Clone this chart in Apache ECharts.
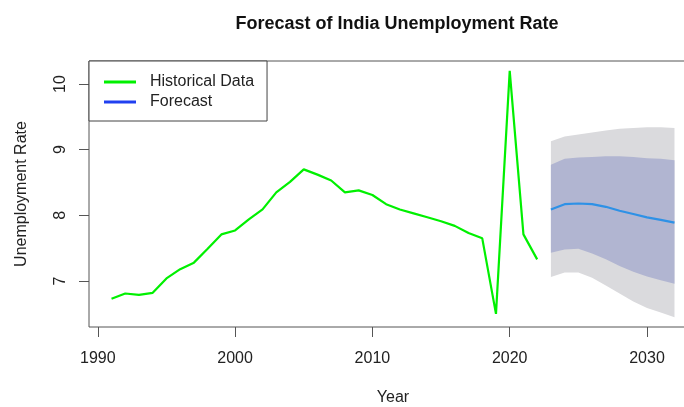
<!DOCTYPE html>
<html>
<head>
<meta charset="utf-8">
<script src="https://cdn.jsdelivr.net/npm/echarts@6/dist/echarts.min.js"></script>
<style>
html,body{margin:0;padding:0;background:#fff;}
#chart{width:684px;height:407px;}
</style>
</head>
<body>
<div id="chart"></div>
<script>
// historical series
var histYears = [1991,1992,1993,1994,1995,1996,1997,1998,1999,2000,2001,2002,2003,2004,2005,2006,
                 2007,2008,2009,2010,2011,2012,2013,2014,2015,2016,2017,2018,2019,2020,2021,2022];
var histRate = [6.73,6.81,6.79,6.82,7.04,7.18,7.28,7.49,7.71,7.77,7.94,8.09,8.35,8.51,8.70,8.62,
                8.53,8.35,8.38,8.31,8.17,8.09,8.03,7.97,7.91,7.84,7.73,7.65,6.50,10.20,7.71,7.33];

// forecast + intervals
var fcYears = [2023,2024,2025,2026,2027,2028,2029,2030,2031,2032];
var fcMean  = [8.09,8.17,8.18,8.17,8.13,8.07,8.02,7.97,7.93,7.89];
var lo80    = [7.43,7.48,7.49,7.42,7.33,7.23,7.14,7.07,7.01,6.96];
var hi80    = [8.77,8.86,8.88,8.89,8.90,8.90,8.89,8.87,8.86,8.84];
var lo95    = [7.06,7.13,7.13,7.05,6.93,6.81,6.69,6.59,6.52,6.45];
var hi95    = [9.13,9.20,9.23,9.26,9.29,9.32,9.33,9.34,9.34,9.33];

var xTicks = [1990,2000,2010,2020,2030];
var yTicks = [7,8,9,10];

function pairs(xs, ys){
	var out = [];
	for(var i=0;i<xs.length;i++){ out.push([xs[i], ys[i]]); }
	return out;
}

// band polygon drawn once through the axis scales
function bandSeries(name, lo, hi, color){
	return {
		name: name, type: 'custom', silent: true,
		data: pairs(fcYears, hi),
		encode: {x: 0, y: 1},
		renderItem: function(params, api){
			if(params.dataIndex !== 0) return null;
			var pts = [];
			for(var i=0;i<fcYears.length;i++){ pts.push(api.coord([fcYears[i], hi[i]])); }
			for(var j=fcYears.length-1;j>=0;j--){ pts.push(api.coord([fcYears[j], lo[j]])); }
			return {type: 'polygon', shape: {points: pts}, style: {fill: color}};
		}
	};
}

var font = 'Liberation Sans, Arial, sans-serif';
var axisCol = '#555';
var plain = function(v){ return String(v); };

var myChart = echarts.init(document.getElementById('chart'));
var option = {
	backgroundColor: '#fff',
	animation: false,
	title: {
		text: 'Forecast of India Unemployment Rate',
		left: 392,
		textAlign: 'center',
		top: 10,
		textStyle: {fontFamily: font, fontSize: 18, fontWeight: 'bold', color: '#111'}
	},
	grid: {
		left: 89, top: 61, right: -13, height: 266,
		outerBoundsMode: 'none', containLabel: false,
		show: true, borderColor: axisCol, borderWidth: 1, backgroundColor: 'transparent'
	},
	legend: {
		orient: 'vertical',
		left: 89, top: 61,
		padding: [11, 13, 9, 15],
		backgroundColor: '#fff',
		borderColor: '#444', borderWidth: 1,
		itemWidth: 32, itemHeight: 3, itemGap: 0,
		icon: 'rect',
		textStyle: {fontFamily: font, fontSize: 16, color: '#222', lineHeight: 20, padding: [0,0,0,9]},
		data: [
			{name: 'Historical Data', itemStyle: {color: '#00f000'}},
			{name: 'Forecast', itemStyle: {color: '#2040f0'}}
		]
	},
	xAxis: {
		type: 'value',
		min: 1989.36, max: 2033.64,
		name: 'Year', nameLocation: 'middle', nameGap: 63,
		nameTextStyle: {fontFamily: font, fontSize: 16, color: '#222'},
		axisLine: {show: false},
		axisTick: {show: true, length: 10, customValues: xTicks, lineStyle: {color: axisCol}},
		axisLabel: {customValues: xTicks, formatter: plain, margin: 24, fontFamily: font, fontSize: 16, color: '#222'},
		splitLine: {show: false}
	},
	yAxis: {
		type: 'value',
		min: 6.3, max: 10.35,
		name: 'Unemployment Rate', nameLocation: 'middle', nameGap: 59,
		nameTextStyle: {fontFamily: font, fontSize: 16, color: '#222'},
		axisLine: {show: false},
		axisTick: {show: true, length: 10, customValues: yTicks, lineStyle: {color: axisCol}},
		axisLabel: {customValues: yTicks, formatter: plain, rotate: 90, margin: 20, fontFamily: font, fontSize: 16, color: '#222'},
		splitLine: {show: false}
	},
	series: [
		bandSeries('band95', lo95, hi95, '#dadadd'),
		bandSeries('band80', lo80, hi80, '#b1b5d1'),
		{
			name: 'Historical Data', type: 'line',
			data: pairs(histYears, histRate), showSymbol: false,
			lineStyle: {color: '#00f000', width: 2.2},
			itemStyle: {color: '#00f000'}
		},
		{
			name: 'Forecast', type: 'line',
			data: pairs(fcYears, fcMean), showSymbol: false,
			lineStyle: {color: '#2e91e6', width: 2.2},
			itemStyle: {color: '#2e91e6'}
		}
	]
};
myChart.setOption(option);
</script>
</body>
</html>
